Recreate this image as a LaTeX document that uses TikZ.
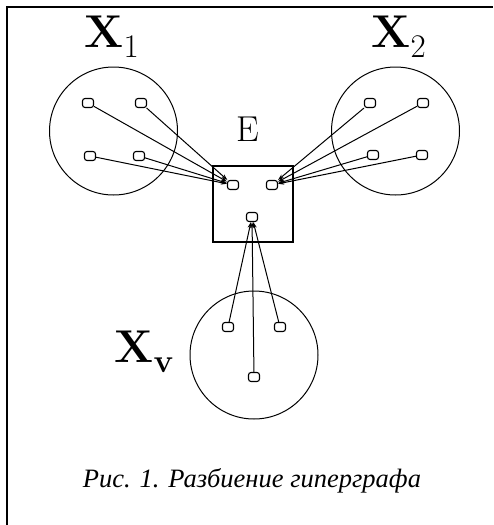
\documentclass[tikz,border=0pt]{standalone}
\usepackage{fontspec}
\newfontfamily\capfont{Liberation Serif}
\usetikzlibrary{arrows.meta}
\newcommand{\setname}[1]{{\bfseries X}\raisebox{-10pt}{\fontsize{33}{33}\selectfont #1}}
\begin{document}
\begin{tikzpicture}[x=1pt, y=-1pt, line width=1pt,
    vtx/.style={draw, line width=1.1pt, rounded corners=2.5pt, minimum width=11pt, minimum height=9pt, inner sep=0pt},
    link/.style={-{Stealth[length=6pt, width=4pt]}, line width=1pt},
    setc/.style={draw, circle, minimum size=128pt, inner sep=0pt},
    setlab/.style={anchor=base west, inner sep=0pt, font=\fontsize{46}{46}\selectfont}]
    \useasboundingbox (0,0) rectangle (493,525);
    \draw[line width=1.4pt] (7,525) -- (7,7) -- (493,7);
    % the three parts and the hyperedge
    \node[setc] (X1) at (113.5,131) {};
    \node[setc] (X2) at (395.5,131) {};
    \node[setc] (Xv) at (254,355) {};
    \node[draw, line width=1.3pt, minimum width=80pt, minimum height=76pt, inner sep=0pt] (E) at (253,204) {};
    \node[setlab] (lX1) at (84,47) {\setname{1}};
    \node[setlab] (lX2) at (371,47) {\setname{2}};
    \node[setlab] (lXv) at (114,362) {\setname{\bfseries v}};
    \node[anchor=base west, inner sep=0pt, font=\fontsize{36}{36}\selectfont] (lE) at (236,141) {E};
    % vertices
    \node[vtx] (e1) at (233,185) {};
    \node[vtx] (e2) at (272,185) {};
    \node[vtx] (e3) at (252,217) {};
    \foreach \n/\x/\y in {1/88/103, 2/141/103, 3/90/156, 4/139/156} {
        \node[vtx] (a\n) at (\x,\y) {};
        \draw[link] (a\n) -- (e1);
    }
    \foreach \n/\x/\y in {1/370/103, 2/423/103, 3/373/155, 4/422/155} {
        \node[vtx] (b\n) at (\x,\y) {};
        \draw[link] (b\n) -- (e2);
    }
    \foreach \n/\x/\y in {1/228/327, 2/280/327, 3/254/377} {
        \node[vtx] (c\n) at (\x,\y) {};
        \draw[link] (c\n) -- (e3);
    }
    \node[font=\capfont\itshape\fontsize{26.5}{26.5}\selectfont] (cap) at (252,481) {Рис. 1. Разбиение гиперграфа};
\end{tikzpicture}
\end{document}
